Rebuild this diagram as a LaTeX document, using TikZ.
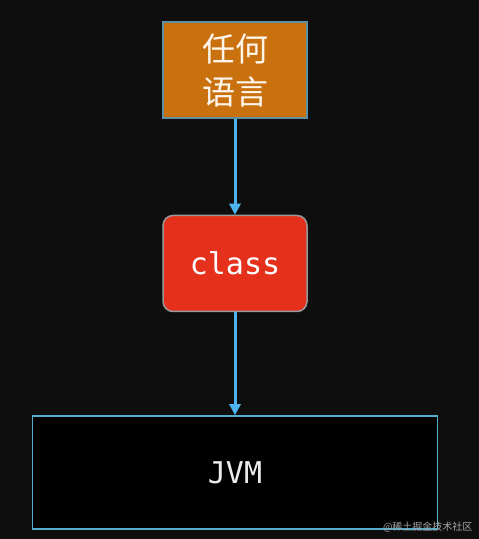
\documentclass[tikz,border=0pt]{standalone}
\usepackage{fontspec}
\setmonofont{DejaVu Sans Mono}
\newfontfamily\cjk{Noto Sans CJK SC}
\usetikzlibrary{positioning,arrows.meta}
\definecolor{bgdark}{HTML}{0E0E0E}
\definecolor{langorange}{HTML}{C9710F}
\definecolor{classred}{HTML}{E5301C}
\definecolor{flowblue}{HTML}{4DB3EE}
\definecolor{jvmedge}{HTML}{55AFCB}
\definecolor{langedge}{HTML}{5F8FA3}
\tikzset{
  flowbox/.style={minimum width=144pt, minimum height=96pt, line width=1.5pt, inner sep=0pt},
  flow/.style={draw=flowblue, line width=3pt, -{Triangle[length=11pt,width=11pt]}}
}
\begin{document}
\begin{tikzpicture}[x=1pt,y=1pt]
    \fill[bgdark] (0,0) rectangle (479,539);
    \useasboundingbox (0,0) rectangle (479,539);

    \node (lang) [flowbox, fill=langorange, draw=langedge, text=orange!8,
      align=center, font=\cjk\fontsize{33}{43}\selectfont] at (235,469) {任何\\语言};
    \node (cls) [flowbox, fill=classred, draw=gray!80, rounded corners=10pt, text=white,
      font=\ttfamily\fontsize{30}{34}\selectfont, below=96pt of lang] {class};
    \node (jvm) [minimum width=405pt, minimum height=113pt, inner sep=0pt, line width=1.5pt,
      fill=black, draw=jvmedge, text=white!92!black,
      font=\ttfamily\fontsize{30}{34}\selectfont, below=103pt of cls] {JVM};

    \draw[flow] (lang) -- (cls);
    \draw[flow] (cls) -- (jvm);

    \node (mark) [text=gray!70, font=\cjk\fontsize{10}{12}\selectfont, anchor=east] at (476,12) {@稀土掘金技术社区};
  \end{tikzpicture}
\end{document}
